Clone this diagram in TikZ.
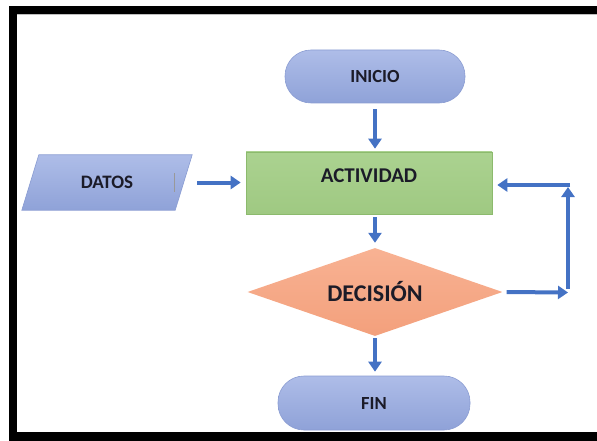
\documentclass[tikz,border=0pt]{standalone}
\usepackage{fontspec}
\setmainfont{Carlito}
\usetikzlibrary{shapes.geometric, arrows.meta, calc, backgrounds}

\definecolor{flowblue}{HTML}{4472C4}
\definecolor{lavtop}{HTML}{AEBDE8}
\definecolor{lavbot}{HTML}{8FA2D8}
\definecolor{lavline}{HTML}{8A9CD2}
\definecolor{greentop}{HTML}{ABD290}
\definecolor{greenbot}{HTML}{9FC982}
\definecolor{greenline}{HTML}{8CBA6D}
\definecolor{salmontop}{HTML}{F8B293}
\definecolor{salmonbot}{HTML}{F3A07C}
\definecolor{inktext}{HTML}{1B1B28}

\tikzset{
  terminal/.style={rectangle, rounded corners=26pt, draw=lavline, line width=0.6pt,
    top color=lavtop, bottom color=lavbot, text=inktext, font=\bfseries\fontsize{18.5}{20}\selectfont},
  process/.style={rectangle, draw=greenline, line width=0.6pt,
    top color=greentop, bottom color=greenbot, text=inktext, font=\bfseries\fontsize{21}{22}\selectfont},
  choice/.style={diamond, shape aspect=2.9, inner sep=0pt,
    top color=salmontop, bottom color=salmonbot, text=inktext, font=\bfseries\fontsize{24}{25}\selectfont},
  datafield/.style={rectangle, text=inktext, font=\bfseries\fontsize{19}{21}\selectfont},
  paraface/.style={draw=lavline, line width=0.6pt, top color=lavtop, bottom color=lavbot},
  flow/.style={draw=flowblue, line width=4pt, -{Triangle[length=10pt,width=13pt]}},
}

\begin{document}
\begin{tikzpicture}[x=1pt, y=-1pt]
  \useasboundingbox (0,0) rectangle (597,441);

  % black frame
  \fill[black] (9,6) rectangle (597,14);
  \fill[black] (9,6) rectangle (17,441);
  \fill[black] (9,432) rectangle (597,441);
  \draw[black!25, line width=0.6pt] (17,14.5) -- (597,14.5);

  % flowchart blocks
  \node[terminal, minimum width=180pt, minimum height=53pt] (inicio) at (375,76.5) {INICIO};
  \node[process, minimum width=246pt, minimum height=62pt] (actividad) at (369,183)
    {\raisebox{7pt}[\height][\depth]{ACTIVIDAD}};
  \node[choice, minimum width=255pt, minimum height=88pt] (decision) at (375,292) {DECISIÓN};
  \node[terminal, minimum width=192pt, minimum height=54pt] (fin) at (374,403) {FIN};
  \node[datafield, minimum width=170pt, minimum height=55pt] (datos) at (107,182.5) {DATOS};

  % slanted input box behind the DATOS label
  \begin{scope}[on background layer]
    \path[paraface] (datos.south west) -- ($(datos.south east)+(-17,0)$)
      -- (datos.north east) -- ($(datos.north west)+(17,0)$) -- cycle;
  \end{scope}
  \draw[black!40, line width=0.6pt] (174,173) -- (174,192);

  % loop-back corner points
  \coordinate (loopb) at (568,292.5);
  \coordinate (loopt) at (568,185);

  % connectors
  \draw[flow, shorten <=6pt, shorten >=3pt] (inicio.south) -- (inicio.south |- actividad.north);
  \draw[flow, shorten <=5pt, shorten >=5pt] (datos.east) -- (datos.east -| actividad.west);
  \draw[flow, shorten <=3pt, shorten >=5pt] (actividad.south -| decision.north) -- (decision.north);
  \draw[flow, shorten <=2pt, shorten >=4pt] (decision.south) -- (decision.south |- fin.north);
  \draw[flow, shorten <=4pt] (decision.east) -- (loopb);
  \draw[flow, shorten <=4pt, shorten >=2pt] (loopb) -- (loopt);
  \draw[flow, shorten <=-2pt, shorten >=5pt] (loopt) -- (loopt -| actividad.east);
\end{tikzpicture}
\end{document}
